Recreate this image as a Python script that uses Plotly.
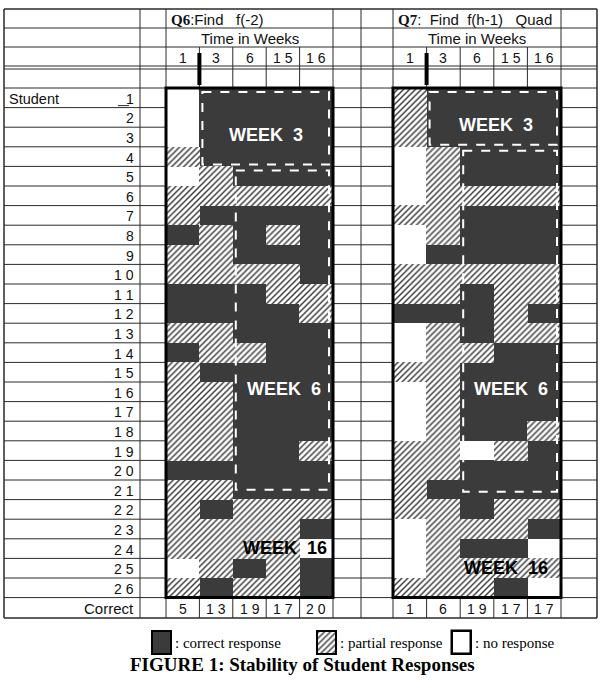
import plotly.graph_objects as go

# ---------------- data ----------------
students = [str(i) for i in range(1, 27)]
weeks = ["1", "3", "6", "15", "16"]
q6_correct = ["5", "13", "19", "17", "20"]
q7_correct = ["1", "6", "19", "17", "17"]
# 2 = correct response, 1 = partial response, 0 = no response
q6 = [
    [0, 2, 2, 2, 2], [0, 2, 2, 2, 2], [0, 2, 2, 2, 2], [1, 2, 2, 2, 2],
    [0, 1, 2, 2, 2], [1, 1, 1, 1, 1], [1, 2, 2, 2, 2], [2, 1, 2, 1, 2],
    [1, 1, 2, 2, 2], [1, 1, 1, 1, 2], [2, 2, 2, 1, 1], [2, 2, 2, 2, 1],
    [1, 1, 2, 2, 2], [2, 1, 1, 2, 2], [1, 2, 2, 2, 2], [1, 1, 2, 2, 2],
    [1, 1, 2, 2, 2], [1, 1, 2, 2, 2], [1, 1, 2, 2, 1], [2, 2, 2, 2, 2],
    [1, 1, 2, 2, 2], [1, 2, 1, 1, 1], [1, 1, 1, 1, 2], [1, 1, 1, 1, 0],
    [0, 1, 2, 1, 2], [1, 2, 1, 1, 2],
]
q7 = [
    [1, 2, 2, 2, 2], [1, 2, 2, 2, 2], [1, 2, 2, 2, 2], [0, 1, 2, 2, 2],
    [0, 1, 2, 2, 2], [0, 1, 1, 1, 1], [1, 1, 2, 2, 2], [0, 1, 2, 2, 2],
    [0, 2, 2, 2, 2], [1, 1, 1, 1, 1], [1, 1, 2, 1, 1], [2, 2, 2, 1, 2],
    [0, 1, 2, 1, 1], [0, 1, 1, 2, 2], [1, 1, 2, 2, 2], [0, 1, 2, 2, 2],
    [0, 1, 2, 2, 2], [0, 1, 2, 2, 1], [1, 1, 0, 1, 2], [1, 1, 2, 2, 2],
    [1, 2, 2, 2, 2], [1, 1, 2, 1, 1], [0, 1, 1, 1, 2], [0, 1, 2, 2, 0],
    [0, 1, 1, 1, 1], [1, 1, 1, 2, 0],
]
q6_title = "<b><span style='font-family:Liberation Serif'>Q6</span></b>:Find   f(-2)"
q7_title = "<b><span style='font-family:Liberation Serif'>Q7</span></b>:  Find  f(h-1)   Quad"
time_label = "Time in Weeks"
legend_labels = [": correct response", ": partial response", ": no response"]
caption = "FIGURE 1: Stability of Student Responses"

# ---------------- geometry / style ----------------
W, H = 604, 680
XL, XR = 4, 597
X_LAB = 140
X_GAP = 361
QL = [166, 393]
QR = [333, 561]
Y_TOP = 9
HDR = [28, 47, 66, 69]
Y_BODY = 88
ROW_H = 19.6
NROW = len(students)
Y_BODY_END = Y_BODY + NROW * ROW_H
Y_END = 618
DARK = "#3b3b3b"
LINE = "#2a2a2a"
SANS = "Liberation Sans"
SERIF = "Liberation Serif"
HATCH = dict(shape="/", fgcolor=DARK, bgcolor="white", size=4.2, solidity=0.35,
             fillmode="replace")


def spaced(s):
    return " ".join(s)


def cw(q):
    return (QR[q] - QL[q]) / 5.0


fig = go.Figure()

# ---- cells ----
for code, is_hatch in [(2, False), (1, True)]:
    xs, ws, bs, hs = [], [], [], []
    for q, grid in enumerate([q6, q7]):
        w = cw(q)
        for r, row in enumerate(grid):
            for c, v in enumerate(row):
                if v == code:
                    xs.append(QL[q] + (c + 0.5) * w)
                    ws.append(w + 0.4)
                    bs.append(Y_BODY + r * ROW_H - 0.2)
                    hs.append(ROW_H + 0.4)
    if is_hatch:
        marker = dict(color="white", line=dict(width=0), pattern=HATCH)
    else:
        marker = dict(color=DARK, line=dict(width=0))
    fig.add_trace(go.Bar(x=xs, y=hs, base=bs, width=ws, marker=marker,
                         hoverinfo="skip", showlegend=False))

shapes = []


def hline(y, x0, x1, w=1, color=LINE):
    shapes.append(dict(type="line", xref="x", yref="y", x0=x0, x1=x1, y0=y, y1=y,
                       line=dict(color=color, width=w)))


def vline(x, y0, y1, w=1, color=LINE):
    shapes.append(dict(type="line", xref="x", yref="y", x0=x, x1=x, y0=y0, y1=y1,
                       line=dict(color=color, width=w)))


# horizontal lines
hline(Y_TOP, XL, XR, 1.5)
for y in HDR:
    hline(y, XL, XR, 1)
hline(Y_BODY, XL, XR, 1)
for r in range(1, NROW):
    y = Y_BODY + r * ROW_H
    hline(y, XL, QL[0])
    hline(y, QR[0], QL[1])
    hline(y, QR[1], XR)
hline(Y_BODY_END, XL, XR, 1)
hline(Y_END, XL, XR, 1.5)

# vertical lines
vline(XL, Y_TOP, Y_END, 1.5)
vline(XR, Y_TOP, Y_END, 1.5)
vline(X_LAB, Y_TOP, Y_END)
vline(X_GAP, Y_TOP, Y_END)
for q in range(2):
    vline(QL[q], Y_TOP, Y_END)
    vline(QR[q], Y_TOP, Y_END)
    for k in range(1, 5):
        x = QL[q] + k * cw(q)
        vline(x, HDR[1], Y_BODY + 3)
        vline(x, Y_BODY_END, Y_END)
    # thick block outline
    shapes.append(dict(type="rect", xref="x", yref="y", x0=QL[q], x1=QR[q],
                       y0=Y_BODY, y1=Y_BODY_END, line=dict(color="black", width=3)))
    # thick marker between week 1 and week 3
    vline(QL[q] + cw(q), 53, 85, 4, "black")

# dashed "week" boxes: (question, col0, col1, row0, row1)
boxes = [(0, 1, 5, 0, 4), (0, 2, 5, 4, 20.6), (1, 1, 5, 0, 3), (1, 2, 5, 3, 20.7)]
for q, c0, c1, r0, r1 in boxes:
    shapes.append(dict(type="rect", xref="x", yref="y",
                       x0=QL[q] + c0 * cw(q) + 3, x1=QL[q] + c1 * cw(q) - 4,
                       y0=Y_BODY + r0 * ROW_H + 4, y1=Y_BODY + r1 * ROW_H - 2,
                       line=dict(color="white", width=2, dash="dash")))

# underline mark next to student 1
hline(Y_BODY + ROW_H - 2, 118, 129, 1)

annotations = []


def ann(x, y, text, size=13, color="#111111", xanchor="center", family=SANS):
    annotations.append(dict(x=x, y=y, xref="x", yref="y", text=text, showarrow=False,
                            xanchor=xanchor, yanchor="middle",
                            font=dict(family=family, size=size, color=color)))


# header
ann(QL[0] + 3, (Y_TOP + HDR[0]) / 2 + 1, q6_title, 15, xanchor="left")
ann(QL[1] + 3, (Y_TOP + HDR[0]) / 2 + 1, q7_title, 15, xanchor="left")
for q in range(2):
    ann((QL[q] + QR[q]) / 2, (HDR[0] + HDR[1]) / 2 + 1, time_label, 15)
    for c, wk in enumerate(weeks):
        ann(QL[q] + (c + 0.5) * cw(q), (HDR[1] + HDR[2]) / 2 + 1, spaced(wk), 14)

# row labels
ann(7, Y_BODY + 0.5 * ROW_H + 1, "Student", 14.5, xanchor="left")
for r, s in enumerate(students):
    ann(136, Y_BODY + (r + 0.5) * ROW_H + 1, spaced(s), 14, xanchor="right")

# correct row
ann(136, (Y_BODY_END + Y_END) / 2 + 1, "Correct", 15, xanchor="right")
for q, vals in enumerate([q6_correct, q7_correct]):
    for c, v in enumerate(vals):
        ann(QL[q] + (c + 0.5) * cw(q), (Y_BODY_END + Y_END) / 2 + 1, spaced(v), 14)

# week labels
wk_labels = [(266, 135, "WEEK  3", "white"), (496, 125, "WEEK  3", "white"),
             (284, 389, "WEEK  6", "white"), (511, 389, "WEEK  6", "white"),
             (285, 548, "WEEK  16", "black"), (506, 568, "WEEK  16", "black")]
for x, y, t, col in wk_labels:
    ann(x, y, "<b>" + t + "</b>", 18, col)

# legend
leg_x = [152, 317, 452]
leg_y0, leg_y1 = 631, 654
leg_markers = [
    dict(color=DARK, line=dict(color="black", width=2)),
    dict(color="white", line=dict(color="black", width=2), pattern=HATCH),
    dict(color="white", line=dict(color="black", width=2.5)),
]
for lx, mk in zip(leg_x, leg_markers):
    fig.add_trace(go.Bar(x=[lx + 9.5], y=[leg_y1 - leg_y0], base=[leg_y0], width=[19],
                         marker=mk, hoverinfo="skip", showlegend=False))
for lx, lab in zip(leg_x, legend_labels):
    ann(lx + 21, (leg_y0 + leg_y1) / 2, lab, 15, "black", xanchor="left", family=SERIF)

ann(W / 2, 664, "<b>" + caption + "</b>", 19, "black", family=SERIF)

fig.update_layout(
    width=W, height=H, margin=dict(l=0, r=0, t=0, b=0),
    paper_bgcolor="white", plot_bgcolor="white",
    barmode="overlay", bargap=0, showlegend=False,
    xaxis=dict(range=[0, W], visible=False, fixedrange=True, domain=[0, 1]),
    yaxis=dict(range=[H, 0], visible=False, fixedrange=True, domain=[0, 1]),
    shapes=shapes, annotations=annotations,
)

fig.write_html("out.html")
